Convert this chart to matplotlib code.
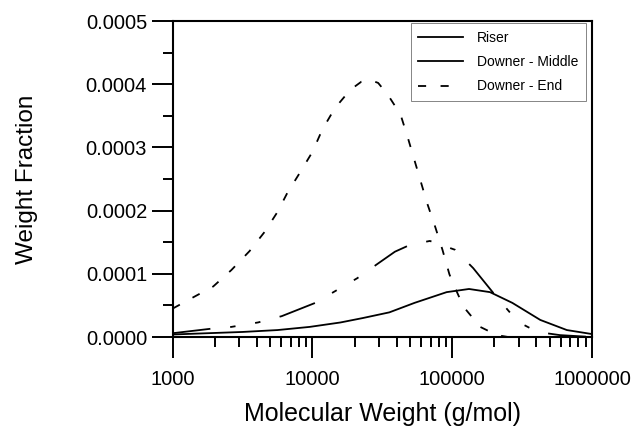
import numpy as np
import matplotlib
matplotlib.use("Agg")
import matplotlib.pyplot as plt
from matplotlib.lines import Line2D
from matplotlib.ticker import FixedLocator, LogLocator, MultipleLocator, FuncFormatter, NullFormatter

plt.rcParams['font.family'] = ['Liberation Sans', 'DejaVu Sans']

# log10 of molecular weight, weight fraction
riser_logmw = [3.0, 3.25, 3.5, 3.75, 3.98, 4.2, 4.36, 4.55, 4.73, 4.96, 5.12, 5.27, 5.43, 5.63, 5.82, 5.99]
riser_wf = [0.000004, 0.000006, 0.000008, 0.000011, 0.000016, 0.000023, 0.00003, 0.000039,
            0.000054, 0.000071, 0.000076, 0.000071, 0.000054, 0.000027, 0.000011, 0.000005]

middle_logmw = [3.0, 3.27, 3.42, 3.61, 3.78, 4.02, 4.15, 4.32, 4.48, 4.59, 4.7, 4.84, 5.02,
                5.15, 5.3, 5.47, 5.61, 5.77, 6.0]
middle_wf = [0.000006, 0.000013, 0.000016, 0.000023, 0.000033, 0.000054, 0.000071, 0.000093,
             0.000118, 0.000135, 0.000146, 0.000152, 0.000138, 0.000109, 0.000068, 0.000024,
             0.000008, 0.000003, 0.0]

end_logmw = [3.0, 3.14, 3.29, 3.42, 3.55, 3.66, 3.75, 3.82, 3.91, 4.0, 4.07, 4.16, 4.27, 4.35,
             4.41, 4.47, 4.54, 4.63, 4.68, 4.82, 4.88, 4.93, 4.98, 5.02, 5.08, 5.2, 5.32, 5.4]
end_wf = [0.000045, 0.000062, 0.00008, 0.000106, 0.000136, 0.000167, 0.000198, 0.000228,
          0.00026, 0.000293, 0.000328, 0.000362, 0.000391, 0.000404, 0.000407, 0.000402,
          0.000383, 0.000352, 0.000317, 0.000212, 0.000173, 0.000138, 0.000099, 0.000078,
          0.000048, 0.000016, 0.000003, 0.0]

x_ticks = [1000, 10000, 100000, 1000000]
y_ticks = [0.0, 0.0001, 0.0002, 0.0003, 0.0004, 0.0005]

fig = plt.figure(figsize=(6.43, 4.26), dpi=100)
ax = fig.add_axes([0.2686, 0.2089, 0.6521, 0.7418])

lw = 1.3
ax.plot(10 ** np.array(riser_logmw), riser_wf, color="black", lw=lw)
ax.plot(10 ** np.array(middle_logmw), middle_wf, color="black", lw=lw,
        linestyle=(0, (21, 11, 3, 11, 3, 11)))
ax.plot(10 ** np.array(end_logmw), end_wf, color="black", lw=lw,
        linestyle=(0, (4.5, 8)))

ax.set_xscale("log")
ax.set_xlim(1000, 1000000)
ax.set_ylim(0, 0.0005)

ax.xaxis.set_major_locator(FixedLocator(x_ticks))
ax.xaxis.set_major_formatter(FuncFormatter(lambda v, p: "%d" % round(v)))
ax.xaxis.set_minor_locator(LogLocator(base=10, subs=np.arange(2, 10)))
ax.xaxis.set_minor_formatter(NullFormatter())
ax.yaxis.set_major_locator(FixedLocator(y_ticks))
ax.yaxis.set_major_formatter(FuncFormatter(lambda v, p: "%.4f" % v))
ax.yaxis.set_minor_locator(MultipleLocator(0.00005))

ax.tick_params(which="major", direction="out", length=15, width=1.4, labelsize=14.5, pad=3.5)
ax.tick_params(axis="x", which="major", pad=9)
ax.tick_params(which="minor", direction="out", length=7.5, width=1.4)
ax.tick_params(top=False, right=False, which="both")
for s in ax.spines.values():
    s.set_linewidth(1.5)

ax.set_xlabel("Molecular Weight (g/mol)", fontsize=18, labelpad=9)
ax.set_ylabel("Weight Fraction", fontsize=17.5, labelpad=34)

handles = [Line2D([], [], color="black", lw=lw),
           Line2D([], [], color="black", lw=lw),
           Line2D([], [], color="black", lw=lw, linestyle=(0, (4.5, 8)))]
leg = ax.legend(handles, ["Riser", "Downer - Middle", "Downer - End"],
                loc="upper right", bbox_to_anchor=(0.985, 0.994), fontsize=10,
                frameon=True, fancybox=False, handlelength=3.2, handletextpad=1.0,
                labelspacing=0.75, borderpad=0.55, borderaxespad=0)
leg.get_frame().set_edgecolor("#666666")
leg.get_frame().set_linewidth(0.7)

fig.savefig("out.png", dpi=100)
